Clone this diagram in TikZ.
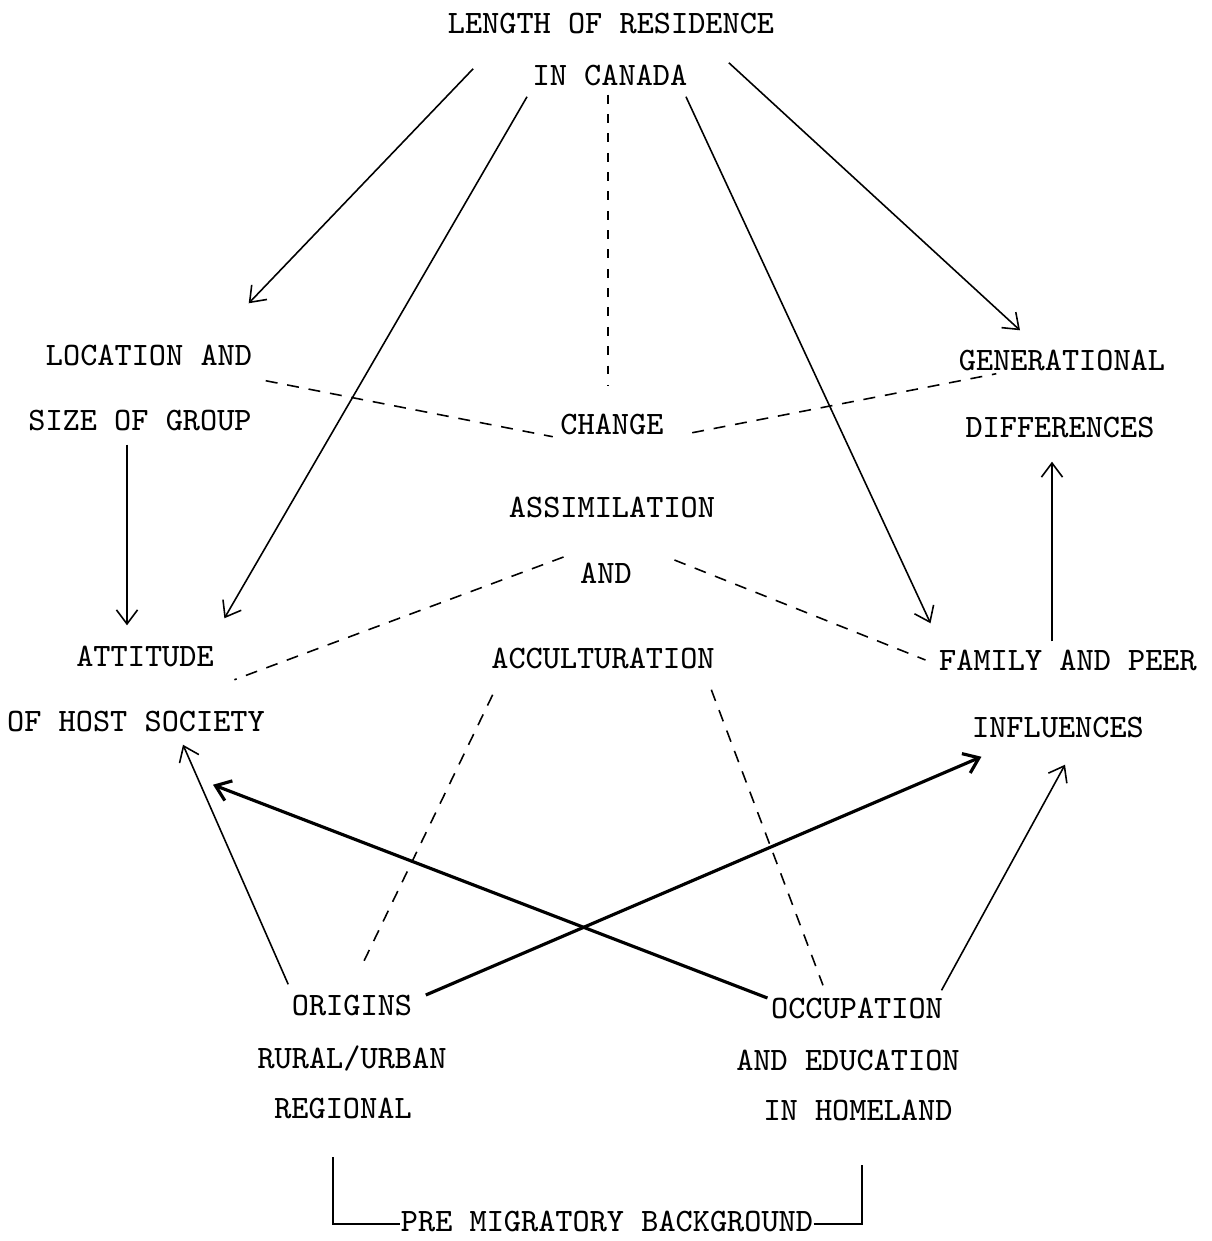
\documentclass[tikz,border=0pt]{standalone}
\usepackage{tikz}
\usetikzlibrary{positioning,arrows.meta,calc}

\begin{document}
\begin{tikzpicture}[x=0.01cm, y=-0.01cm, >={Straight Barb[length=4pt,width=6pt]},
    lbl/.style={font=\fontsize{9.3}{11}\selectfont\ttfamily, inner sep=0pt, text height=5.7pt, text depth=0pt},
    link/.style={line width=0.45pt},
    boldlink/.style={line width=0.9pt},
    dashlink/.style={line width=0.45pt, dash pattern=on 3.4pt off 2.8pt}]
    \useasboundingbox (0,0) rectangle (1212,1241);

    % Labels
    \node[lbl] (len1) at (611, 23) {LENGTH OF RESIDENCE};
    \node[lbl] (len2) at (610, 75) {IN CANADA};

    \node[lbl] (loc1) at (149, 355) {LOCATION AND};
    \node[lbl] (loc2) at (140, 420) {SIZE OF GROUP};

    \node[lbl] (chg) at (612, 424) {CHANGE};

    \node[lbl] (gen1) at (1062, 360) {GENERATIONAL};
    \node[lbl] (gen2) at (1060, 427) {DIFFERENCES};

    \node[lbl] (asm1) at (612, 507) {ASSIMILATION};
    \node[lbl] (asm2) at (606, 573) {AND};
    \node[lbl] (asm3) at (603, 658) {ACCULTURATION};

    \node[lbl] (att1) at (145, 656) {ATTITUDE};
    \node[lbl] (att2) at (136, 721) {OF HOST SOCIETY};

    \node[lbl] (fam1) at (1068, 660) {FAMILY AND PEER};
    \node[lbl] (fam2) at (1058, 727) {INFLUENCES};

    \node[lbl] (org1) at (352, 1005) {ORIGINS};
    \node[lbl] (org2) at (352, 1058) {RURAL/URBAN};
    \node[lbl] (org3) at (343, 1108) {REGIONAL};

    \node[lbl] (occ1) at (857, 1008) {OCCUPATION};
    \node[lbl] (occ2) at (848, 1060) {AND EDUCATION};
    \node[lbl] (occ3) at (858, 1110) {IN HOMELAND};

    \node[lbl] (pre) at (607, 1221) {PRE MIGRATORY BACKGROUND};

    % Length of residence arrows
    \draw[link, ->] ([shift={(26,35)}]len1.south west) -- ([shift={(-4,-41)}]loc1.north east);
    \draw[link, ->] ([shift={(-5,11)}]len2.south west) -- ([shift={(10,-27)}]att1.north east);
    \draw[link, ->] ([shift={(-2,11)}]len2.south east) -- ([shift={(-8,-26)}]fam1.north west);
    \draw[link, ->] ([shift={(-46,29)}]len1.south east) -- ([shift={(-42,-19)}]gen1.north);
    \draw[dashlink, dash pattern=on 2.5pt off 3pt] ([shift={(-2,9)}]len2.south) -- ([shift={(-4,-28)}]chg.north);

    % Side arrows
    \draw[link, ->] ([shift={(-13,14)}]loc2.south) -- ([shift={(-18,-20)}]att1.north);
    \draw[link, ->] ([shift={(-16,-8)}]fam1.north) -- ([shift={(-8,24)}]gen2.south);

    % Dashed ties to the centre
    \draw[dashlink] ([shift={(13,15)}]loc1.south east) -- ([shift={(-7,2)}]chg.south west);
    \draw[dashlink] ([shift={(28,-2)}]chg.south east) -- ([shift={(38,3)}]gen1.south west);
    \draw[dashlink] ([shift={(-16,-16)}]asm2.west) -- ([shift={(20,13)}]att1.south east);
    \draw[dashlink] ([shift={(42,-13)}]asm2.east) -- ([shift={(-13,0)}]fam1.west);
    \draw[dashlink] ([shift={(2,26)}]asm3.south west) -- ([shift={(8,-25)}]org1.north);
    \draw[dashlink] ([shift={(-4,21)}]asm3.south east) -- ([shift={(-34,-12)}]occ1.north);

    % Pre migratory arrows
    \draw[link, ->] ([shift={(-3,-10)}]org1.north west) -- ([shift={(47,13)}]att2.south);
    \draw[boldlink, ->] ([shift={(13,-10)}]org1.east) -- ([shift={(10,19)}]fam2.south west);
    \draw[boldlink, ->] ([shift={(-3,-10)}]occ1.west) -- ([shift={(77,53)}]att2.south);
    \draw[link, ->] ([shift={(-2,-7)}]occ1.north east) -- ([shift={(7,27)}]fam2.south);

    % Bracket
    \coordinate (brL) at (333, 1157);
    \coordinate (brR) at (862, 1165);
    \draw[link] (brL) |- ([shift={(0,3)}]pre.west);
    \draw[link] ([shift={(0,3)}]pre.east) -| (brR);
\end{tikzpicture}
\end{document}
